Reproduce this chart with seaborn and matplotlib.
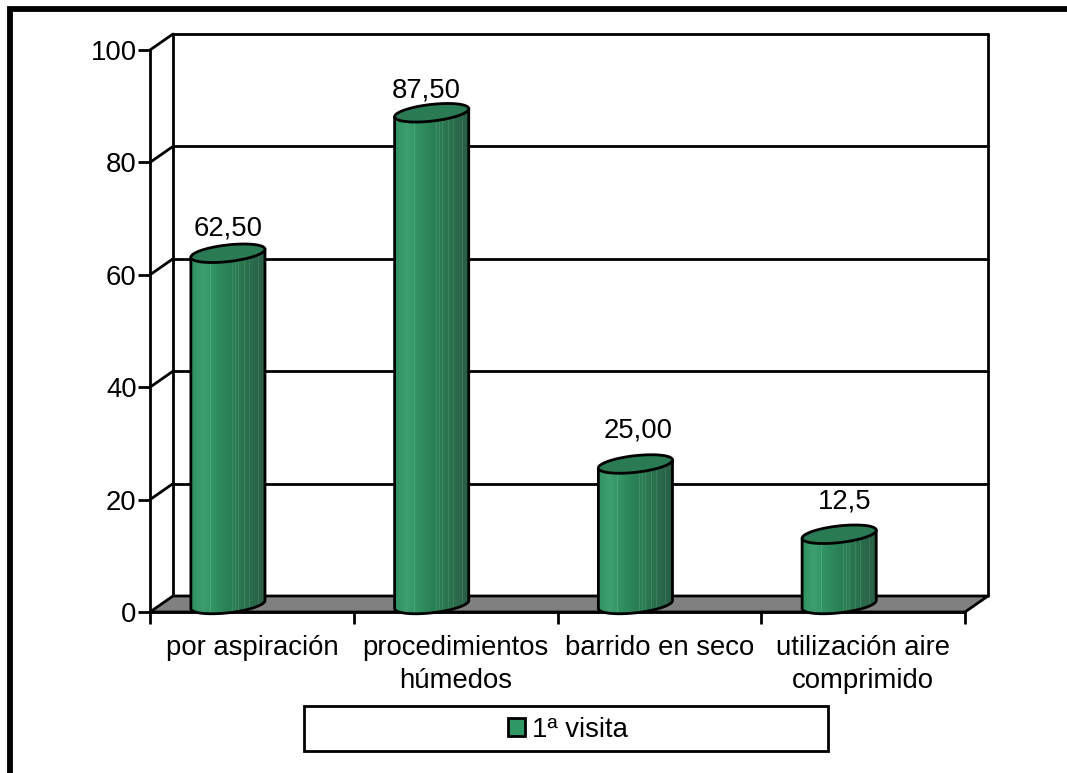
import numpy as np
import pandas as pd
import seaborn as sns
import matplotlib
matplotlib.use("Agg")
import matplotlib.pyplot as plt
from matplotlib.colors import LinearSegmentedColormap
from matplotlib.lines import Line2D
from matplotlib.patches import Patch, Polygon, Rectangle
from matplotlib.path import Path
from matplotlib.transforms import Affine2D, IdentityTransform

# Data
categories = ["por aspiración", "procedimientos\nhúmedos", "barrido en seco",
              "utilización aire\ncomprimido"]
values = [62.5, 87.5, 25.0, 12.5]
value_labels = ["62,50", "87,50", "25,00", "12,5"]
series_name = "1ª visita"
y_ticks = [0, 20, 40, 60, 80, 100]

# Styling
WIDTH, HEIGHT = 1067, 773
FONT_SIZE = 19.8
LW = 2.0
DEPTH = (23, 16)             # pixel offset of the back wall from the front plane
GREEN = "#2f9763"
TOP_GREEN = "#2a7a54"
LABEL_OFFSETS = [(12, 32), (6, 30), (14, 41), (17, 40)]

sns.set_theme(style="white")
plt.rcParams["font.family"] = ["Liberation Sans", "DejaVu Sans"]

fig = plt.figure(figsize=(WIDTH / 100, HEIGHT / 100), dpi=100, facecolor="white")
ax = fig.add_axes([150 / WIDTH, 1 - 612 / HEIGHT, 815 / WIDTH, 562 / HEIGHT])
ax.patch.set_visible(False)

df = pd.DataFrame({"categoria": categories, "valor": values})
sns.barplot(data=df, x="categoria", y="valor", color=GREEN, saturation=1,
            width=0.363, ax=ax, zorder=3)

ax.set_xlim(-0.5, 3.5)
ax.set_ylim(0, 100)
ax.set_autoscale_on(False)
ax.set_xlabel("")
ax.set_ylabel("")

# Axis lines and ticks on the front plane
for side in ("top", "right"):
    ax.spines[side].set_visible(False)
for side in ("left", "bottom"):
    ax.spines[side].set_linewidth(LW)
    ax.spines[side].set_color("black")
    ax.spines[side].set_zorder(2)
ax.set_yticks(y_ticks)
ax.set_xticks(range(len(categories)))
ax.set_xticklabels(categories)
ax.set_xticks(np.arange(-0.5, 4), minor=True)
ax.tick_params(axis="y", length=8.6, width=LW, color="black", left=True, pad=1,
               labelsize=FONT_SIZE, labelcolor="black")
ax.tick_params(axis="x", which="major", length=0, pad=16.5, labelsize=FONT_SIZE,
               labelcolor="black")
ax.tick_params(axis="x", which="minor", length=8.6, width=LW, color="black", bottom=True)
for lab in ax.get_xticklabels():
    lab.set_linespacing(1.33)
    lab.set_verticalalignment("top")

# Box: back wall, side wall and floor
depth = ax.transData + Affine2D().translate(*DEPTH)
x0, x1 = ax.get_xlim()
for v in y_ticks[1:]:
    ax.plot([x0, x1], [v, v], transform=depth, color="black", lw=LW, zorder=1,
            clip_on=False, solid_capstyle="round")
    a = ax.transData.transform((x0, v))
    ax.add_line(Line2D([a[0], a[0] + DEPTH[0]], [a[1], a[1] + DEPTH[1]],
                       transform=IdentityTransform(), color="black", lw=LW,
                       zorder=1, clip_on=False))
for x in (x0, x1):
    ax.plot([x, x], [0, 100], transform=depth, color="black", lw=LW, zorder=1,
            clip_on=False)
f = ax.transData.transform([(x0, 0), (x1, 0)])
floor = np.array([f[0], f[1], f[1] + DEPTH, f[0] + DEPTH])
ax.add_patch(Polygon(floor, closed=True, transform=IdentityTransform(), facecolor="#808080",
                     edgecolor="black", lw=LW, zorder=1.5, clip_on=False,
                     joinstyle="miter"))


def ellipse(center, t):
    """Points of the tilted cylinder rim, in pixels."""
    a, b, tilt = 37.3, 8.3, np.radians(6.5)
    cx, sx = a * np.cos(t), b * np.sin(t)
    return np.column_stack([center[0] + cx * np.cos(tilt) - sx * np.sin(tilt),
                            center[1] + cx * np.sin(tilt) + sx * np.cos(tilt)])


# Shaded body of the cylinders: smooth ramp with fine light pinstripes
ramp = LinearSegmentedColormap.from_list(
    "cyl", ["#2f8f60", "#3d9e70", "#2f8f60", "#2b8157", "#2a7750", "#2b6a4b", "#2a5c44"])
body_colors = ramp(np.linspace(0, 1, 148))
for s in (0.05, 0.09, 0.24, 0.27, 0.56, 0.60, 0.64, 0.67, 0.72, 0.78, 0.83, 0.90):
    body_colors[int(s * 148)] = np.clip(body_colors[int(s * 148)] + 0.07, 0, 1)
body_img = body_colors[np.newaxis, :, :]

# Turn each seaborn bar into a cylinder, using the bar's own geometry
for bar, offset, text, v in zip(ax.patches, LABEL_OFFSETS, value_labels, values):
    bar.set_visible(False)
    cx = bar.get_x() + bar.get_width() / 2 - 0.174
    top = ax.transData.transform((cx, bar.get_height())) + (11.5, 7.5)
    base = ax.transData.transform((cx, 0)) + (11.5, 7.5)

    t_low = np.linspace(np.pi, 2 * np.pi, 60)
    t_up = np.linspace(0, np.pi, 60)
    outline = np.vstack([ellipse(base, t_low), ellipse(top, t_up)])
    clip = Path(np.vstack([outline, outline[0]]), closed=True)
    im = ax.imshow(body_img, extent=(top[0] - 38, top[0] + 38, base[1] - 14, top[1] + 14),
                   transform=IdentityTransform(), aspect="auto", zorder=3,
                   interpolation="nearest")
    im.set_clip_box(fig.bbox)
    im.set_clip_path(clip, IdentityTransform())

    edge = np.vstack([ellipse(top, np.array([np.pi])), ellipse(base, t_low),
                      ellipse(top, np.array([0.0]))])
    ax.add_line(Line2D(edge[:, 0], edge[:, 1], transform=IdentityTransform(), color="black",
                       lw=LW, zorder=3.2, clip_on=False, solid_joinstyle="round"))
    rim = ellipse(top, np.linspace(0, 2 * np.pi, 120))
    ax.add_patch(Polygon(rim, closed=True, transform=IdentityTransform(), facecolor=TOP_GREEN,
                         edgecolor="black", lw=LW, zorder=3.4, clip_on=False))
    ax.annotate(text, xy=(cx, v), xycoords="data", xytext=offset, textcoords="offset pixels",
                ha="center", va="center", fontsize=FONT_SIZE, color="black",
                annotation_clip=False, zorder=5)

# Legend box sits behind the axes, whose legend is drawn on top of it
fig.add_artist(Rectangle((304, HEIGHT - 751), 524, 45, transform=IdentityTransform(),
                         facecolor="white", edgecolor="black", lw=LW, zorder=-1))
handle = Patch(facecolor=GREEN, edgecolor="black", lw=LW, label=series_name)
ax.legend(handles=[handle], loc="center", bbox_to_anchor=(568, HEIGHT - 730),
          bbox_transform=IdentityTransform(), frameon=False, fontsize=FONT_SIZE,
          handlelength=0.62, handleheight=0.62, handletextpad=0.26, labelcolor="black",
          borderpad=0, borderaxespad=0).set_zorder(6)

# Outer frame running off the right and bottom edges
fig.add_artist(Line2D([10, 10, WIDTH + 5], [-5, HEIGHT - 8.5, HEIGHT - 8.5],
                      transform=IdentityTransform(), color="black", lw=4.2,
                      solid_joinstyle="miter"))

fig.savefig("out.png", dpi=100, facecolor="white")
